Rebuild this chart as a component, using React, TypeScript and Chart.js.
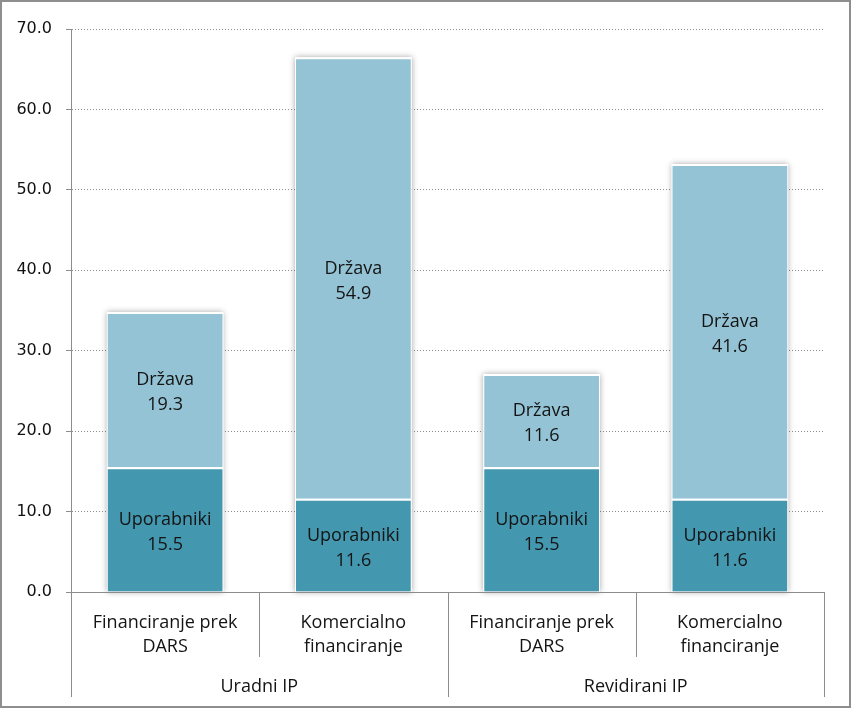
import React, { useEffect, useRef } from "react";
import { Chart, registerables } from "chart.js";

Chart.register(...registerables);

const categories = ["Financiranje prek DARS", "Komercialno financiranje", "Financiranje prek DARS", "Komercialno financiranje"];
const categoryLines = [
  ["Financiranje prek", "DARS"],
  ["Komercialno", "financiranje"],
  ["Financiranje prek", "DARS"],
  ["Komercialno", "financiranje"],
];
const groups = ["Uradni IP", "Revidirani IP"];
const groupSizes = [2, 2];
const seriesNames = ["Uporabniki", "Država"];
const uporabniki = [15.5, 11.6, 15.5, 11.6];
const drzava = [19.3, 54.9, 11.6, 41.6];
const yMin = 0;
const yMax = 70;
const yStep = 10;

const LABEL_FONT = "'Open Sans', 'Noto Sans', sans-serif";
const AXIS_COLOR = "#8c8c8c";

export default function App() {
  const ref = useRef<HTMLCanvasElement | null>(null);

  useEffect(() => {
    if (!ref.current) return;

    const customPlugin = {
      id: "custom",
      beforeDatasetsDraw(chart: any) {
        // soft shadow behind each stacked bar
        const ctx = chart.ctx;
        const n = chart.data.labels.length;
        ctx.save();
        ctx.shadowColor = "rgba(0,0,0,0.35)";
        ctx.shadowBlur = 6;
        ctx.shadowOffsetX = 0;
        ctx.shadowOffsetY = 0;
        ctx.fillStyle = "#ffffff";
        for (let i = 0; i < n; i++) {
          let top = Infinity;
          let bot = -Infinity;
          let x = 0;
          let w = 0;
          chart.data.datasets.forEach((_ds: any, di: number) => {
            const el: any = chart.getDatasetMeta(di).data[i];
            if (!el) return;
            top = Math.min(top, el.y, el.base);
            bot = Math.max(bot, el.y, el.base);
            x = el.x;
            w = el.width;
          });
          ctx.fillRect(x - w / 2, top, w, bot - top);
        }
        ctx.restore();
      },
      afterDatasetsDraw(chart: any) {
        const ctx = chart.ctx;
        ctx.save();
        ctx.font = `18px ${LABEL_FONT}`;
        ctx.fillStyle = "#141414";
        ctx.textAlign = "center";
        ctx.textBaseline = "middle";
        chart.data.datasets.forEach((ds: any, di: number) => {
          const meta = chart.getDatasetMeta(di);
          meta.data.forEach((el: any, i: number) => {
            const v = ds.data[i] as number;
            const cy = (el.y + el.base) / 2;
            ctx.fillText(ds.label, el.x, cy - 9.5);
            ctx.fillText(v.toFixed(1), el.x, cy + 15.5);
          });
        });
        ctx.restore();
      },
      afterDraw(chart: any) {
        const ctx = chart.ctx;
        const { left, right, bottom } = chart.chartArea;
        const n = categories.length;
        const cw = (right - left) / n;
        ctx.save();
        ctx.strokeStyle = AXIS_COLOR;
        ctx.lineWidth = 1;
        // x axis line
        ctx.beginPath();
        ctx.moveTo(left - 5, Math.round(bottom) + 0.5);
        ctx.lineTo(right, Math.round(bottom) + 0.5);
        ctx.stroke();
        // separators
        const groupBounds = new Set<number>();
        let acc = 0;
        groupBounds.add(0);
        groupSizes.forEach((s) => {
          acc += s;
          groupBounds.add(acc);
        });
        for (let k = 0; k <= n; k++) {
          const x = Math.round(left + k * cw) + 0.5;
          const yEnd = groupBounds.has(k) ? bottom + 105 : bottom + 65;
          ctx.beginPath();
          ctx.moveTo(x, bottom);
          ctx.lineTo(x, yEnd);
          ctx.stroke();
        }
        // category labels
        ctx.font = `18px ${LABEL_FONT}`;
        ctx.fillStyle = "#141414";
        ctx.textAlign = "center";
        ctx.textBaseline = "middle";
        categoryLines.forEach((lines, i) => {
          const cx = left + (i + 0.5) * cw;
          lines.forEach((t, li) => {
            ctx.fillText(t, cx, bottom + 31 + li * 24);
          });
        });
        // group labels
        let start = 0;
        groups.forEach((g, gi) => {
          const size = groupSizes[gi];
          const cx = left + (start + size / 2) * cw;
          ctx.fillText(g, cx, bottom + 95);
          start += size;
        });
        // outer frame
        ctx.strokeStyle = "#8e8e8e";
        ctx.lineWidth = 2;
        ctx.strokeRect(1, 1, chart.width - 3, chart.height - 3);
        ctx.restore();
      },
    };

    const chart = new Chart(ref.current, {
      type: "bar",
      data: {
        labels: categories,
        datasets: [
          {
            label: seriesNames[0],
            data: uporabniki,
            backgroundColor: "#4397af",
            borderColor: "#ffffff",
            borderWidth: { top: 2, left: 1, right: 1, bottom: 0 },
            borderSkipped: false,
            categoryPercentage: 1,
            barPercentage: 0.62,
          },
          {
            label: seriesNames[1],
            data: drzava,
            backgroundColor: "#93c3d4",
            borderColor: "#ffffff",
            borderWidth: { top: 2, left: 1, right: 1, bottom: 0 },
            borderSkipped: false,
            categoryPercentage: 1,
            barPercentage: 0.62,
          },
        ],
      },
      options: {
        responsive: false,
        animation: false,
        layout: { padding: { top: 29, right: 28, bottom: 117, left: 0 } },
        plugins: { legend: { display: false }, tooltip: { enabled: false } },
        scales: {
          x: { display: false, stacked: true },
          y: {
            stacked: true,
            min: yMin,
            max: yMax,
            ticks: {
              stepSize: yStep,
              callback: (v: any) => Number(v).toFixed(1),
              font: { family: "'DejaVu Sans', sans-serif", size: 16 },
              color: "#111111",
              padding: 14,
            },
            grid: {
              color: AXIS_COLOR,
              tickColor: AXIS_COLOR,
              tickLength: 5,
              drawTicks: true,
            },
            border: { display: true, color: AXIS_COLOR, width: 1, dash: [1, 2] },
            afterFit: (scale: any) => {
              scale.width = 71;
            },
          },
        },
      },
      plugins: [customPlugin],
    } as any);

    return () => chart.destroy();
  }, []);

  return (
    <div style={{ position: "absolute", left: 0, top: 0, width: 852, height: 709, background: "#fff" }}>
      <canvas ref={ref} width={852} height={709} style={{ display: "block" }} />
    </div>
  );
}
